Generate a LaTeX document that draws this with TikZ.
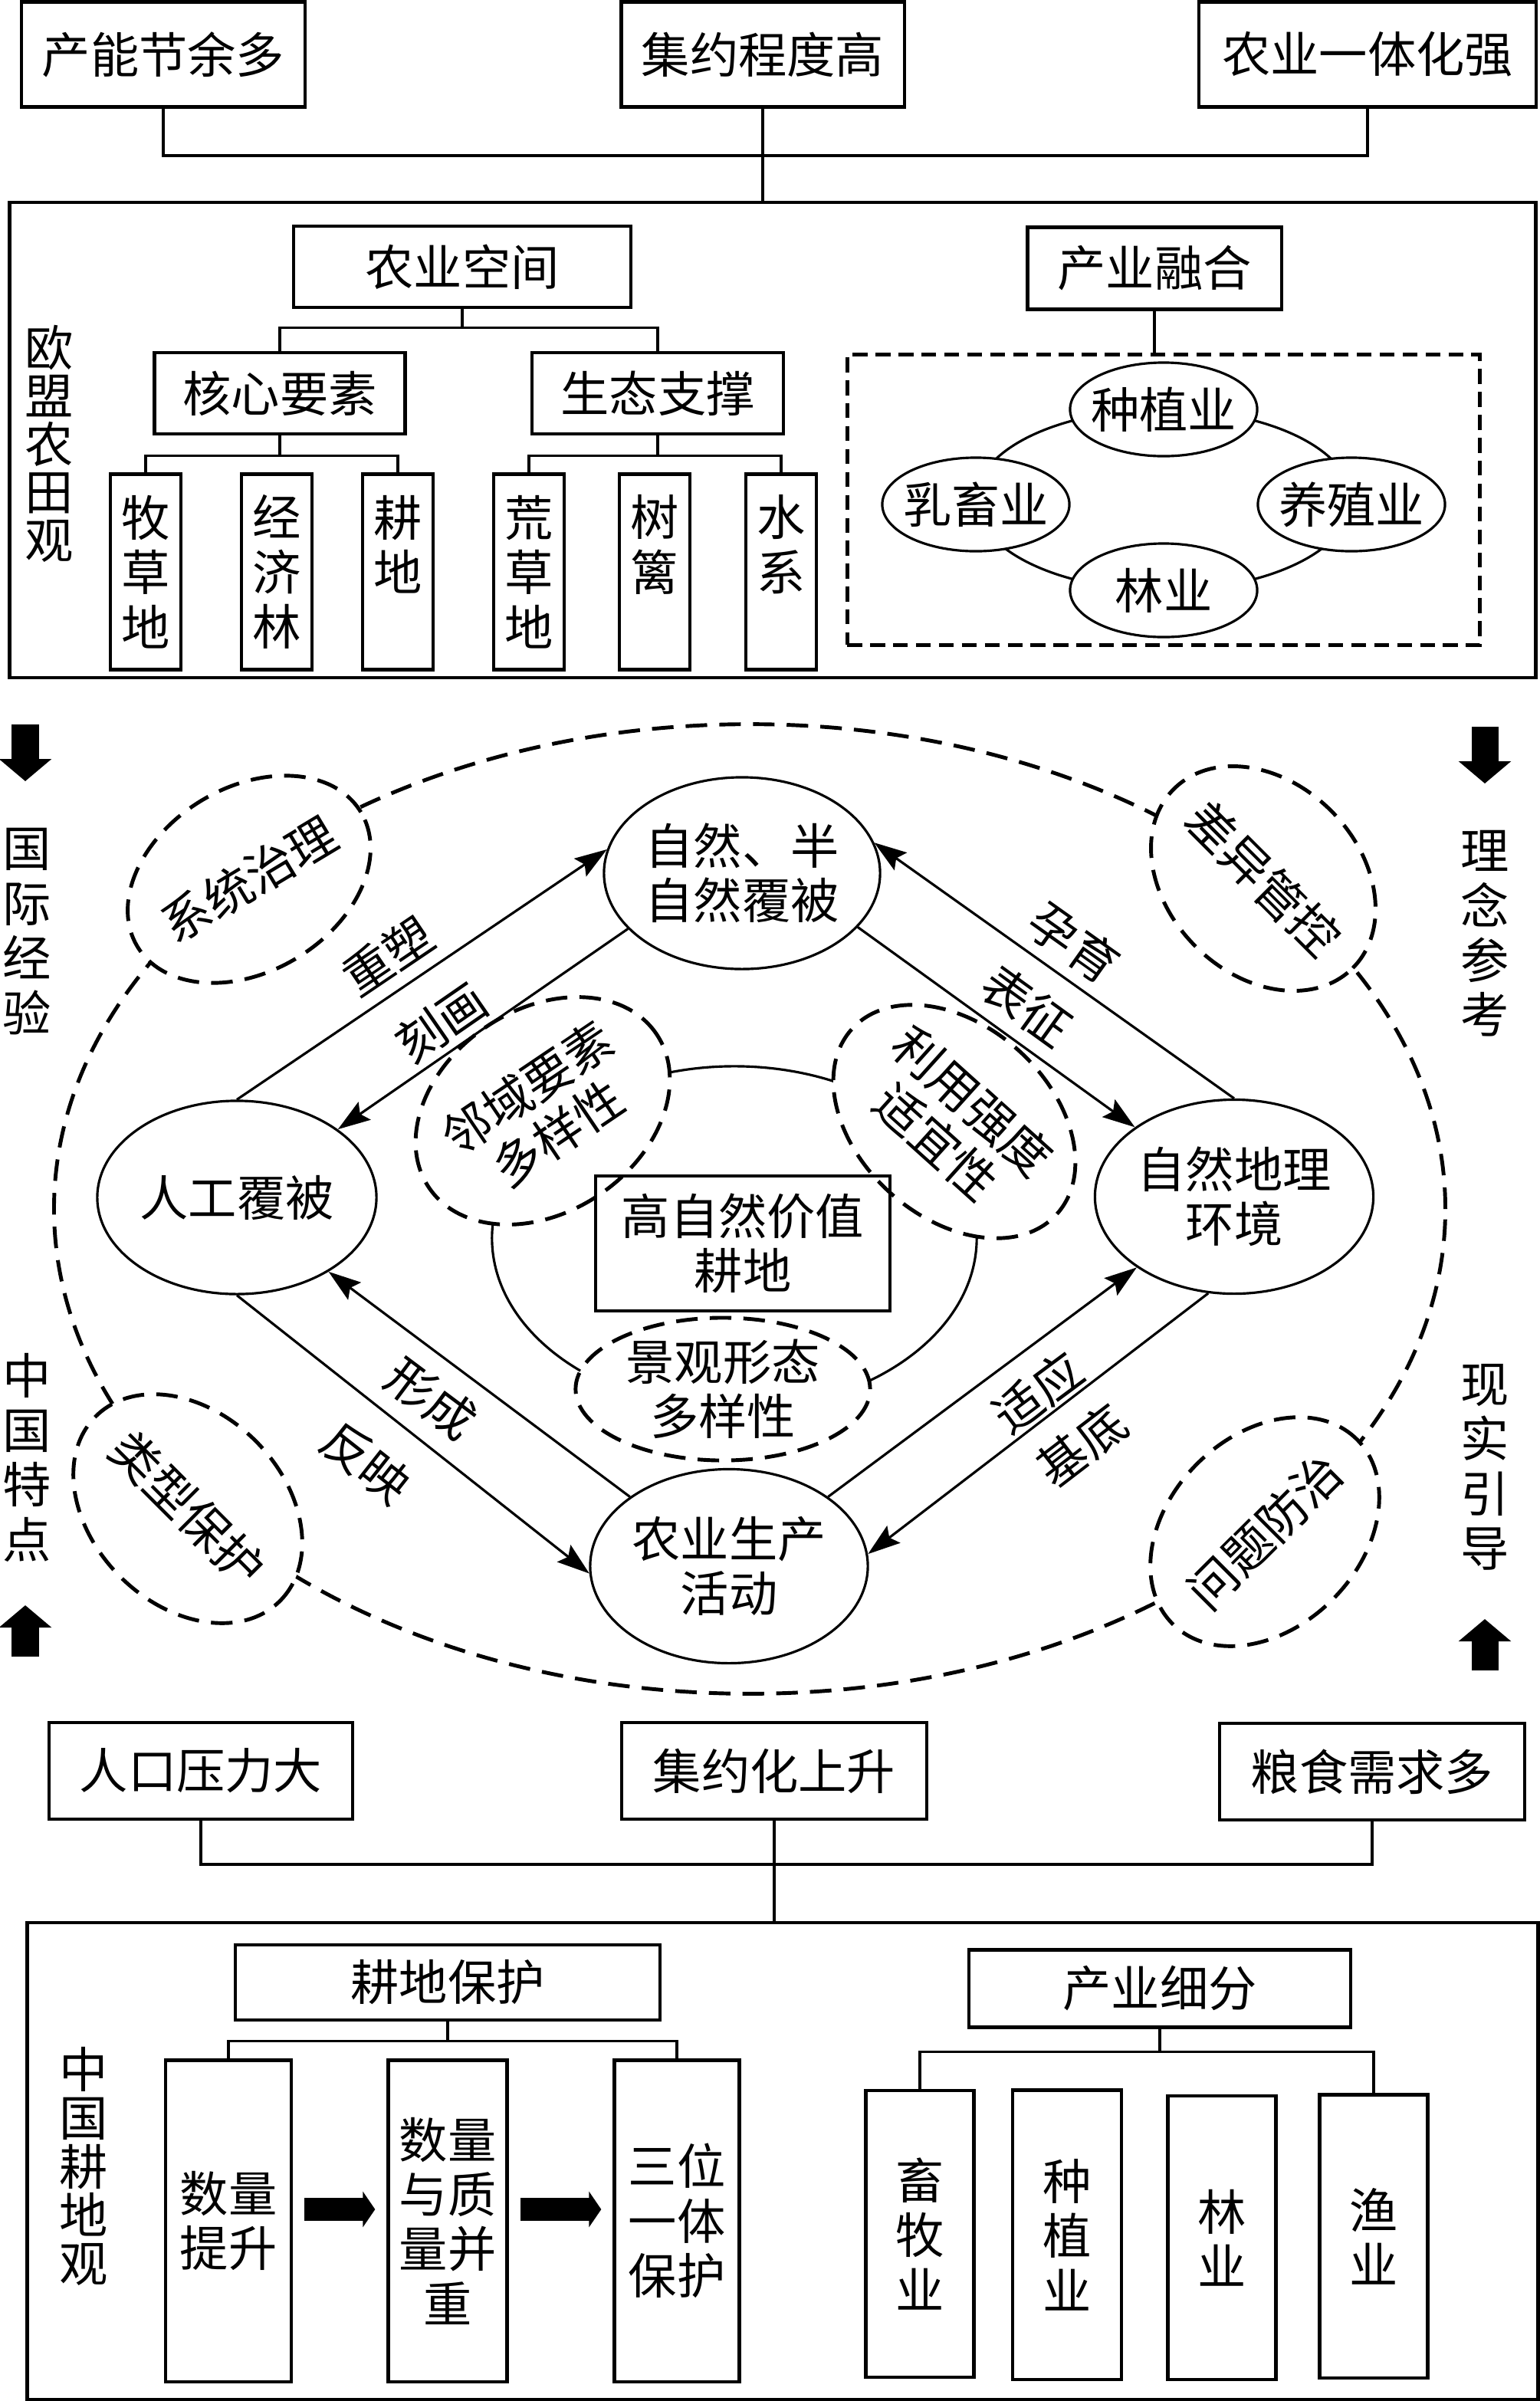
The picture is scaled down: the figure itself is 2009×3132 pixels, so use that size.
\documentclass[tikz,border=0pt]{standalone}
\usepackage{fontspec}
\newfontfamily\cjk{Noto Sans CJK SC}
\usetikzlibrary{shapes.geometric, arrows.meta, positioning, calc}
\begin{document}
\begin{tikzpicture}
	[x=0.01cm, y=-0.01cm,
	every node/.style = {font=\cjk\fontsize{18pt}{20.3pt}\selectfont, align=center, inner sep=0pt},
	kuang/.style = {draw, rectangle, line width=1.2pt},
	shu/.style = {kuang, minimum width=0.92cm, minimum height=2.55cm},
	yuan/.style = {draw, ellipse, line width=0.9pt, fill=white},
	xuyuan/.style = {draw, ellipse, line width=1.4pt, dash pattern=on 8pt off 4.5pt, fill=white},
	lian/.style = {line width=0.9pt},
	jiantou/.style = {line width=0.9pt, -{Stealth[length=12pt, width=8pt, inset=2pt]}},
	biao/.style = {inner sep=1pt, sloped},
	cu/.style = {line width=0.35cm, -{Triangle[length=0.29cm, width=0.67cm]}},
	cuxiao/.style = {line width=0.3cm, -{Triangle[length=0.16cm, width=0.46cm]}}]
	\useasboundingbox (0,0) rectangle (2009,3132);
	% top
	\node[kuang, minimum width=3.7cm, minimum height=1.37cm] (cnjy) at (213,71) {产能节余多};
	\node[kuang, minimum width=3.69cm, minimum height=1.37cm] (jycd) at (995,71) {集约程度高};
	\node[kuang, minimum width=4.39cm, minimum height=1.37cm] (nyyt) at (1784,71) {农业一体化强};
	\node[kuang, minimum width=19.9cm, minimum height=6.2cm] (oumeng) at (1008,574) {};
	\coordinate (ojd) at (995,203);
	\draw[lian] (cnjy.south) |- (ojd) -| (nyyt.south);
	\draw[lian] (jycd.south) -- (jycd.south |- oumeng.north);
	\node[font=\cjk\fontsize{18pt}{17.8pt}\selectfont] (omnt) at (64,579) {欧\\盟\\农\\田\\观};
	\node[kuang, minimum width=4.4cm, minimum height=1.06cm] (nykj) at (603,348) {农业空间};
	\node[kuang, minimum width=3.27cm, minimum height=1.06cm] (hxys) at (365,513) {核心要素};
	\node[kuang, minimum width=3.28cm, minimum height=1.06cm] (stzc) at (858,513) {生态支撑};
	\node[shu] (mcd) at (190,746) {牧\\草\\地};
	\node[shu] (jjl) at (361,746) {经\\济\\林};
	\node[shu] (gd) at (519,746) {耕\\地\\\phantom{地}};
	\node[shu] (hcd) at (690,746) {荒\\草\\地};
	\node[shu] (sl) at (854,746) {树\\篱\\\phantom{篱}};
	\node[shu] (sx) at (1019,746) {水\\系\\\phantom{系}};
	\draw[lian] (nykj.south) -- ++(0,24) coordinate (nyfen);
	\draw[lian] (hxys.north) |- (nyfen) -| (stzc.north);
	\draw[lian] (hxys.south) -- ++(0,26) coordinate (hxfen);
	\draw[lian] (mcd.north) |- (hxfen) -| (gd.north);
	\draw[lian] (stzc.south) -- ++(0,26) coordinate (stfen);
	\draw[lian] (hcd.north) |- (stfen) -| (sx.north);
	\node[kuang, minimum width=3.31cm, minimum height=1.07cm] (cyrh) at (1506,350) {产业融合};
	\node[draw, line width=1.4pt, dash pattern=on 5.5pt off 3pt, minimum width=8.25cm, minimum height=3.78cm] (rhkuang) at (1518,652) {};
	\draw[lian] (cyrh.south) -- (cyrh.south |- rhkuang.north);
	\node[draw, ellipse, lian, minimum width=4.9cm, minimum height=2.36cm] (rhhuan) at (1518,652) {};
	\node[yuan, minimum width=2.44cm, minimum height=1.22cm] (zzya) at (1518,534) {\makebox[0pt]{种植业}};
	\node[yuan, minimum width=2.44cm, minimum height=1.22cm] (rxy) at (1273,658) {\makebox[0pt]{乳畜业}};
	\node[yuan, minimum width=2.44cm, minimum height=1.22cm] (yzy) at (1763,658) {\makebox[0pt]{养殖业}};
	\node[yuan, minimum width=2.44cm, minimum height=1.22cm] (lya) at (1518,770) {\makebox[0pt]{林业}};
	% middle
	\coordinate (gjs) at (33,945); \coordinate (gjx) at (33,1019);
	\coordinate (lns) at (1937,948); \coordinate (lnx) at (1937,1022);
	\coordinate (zgx) at (33,2161); \coordinate (zgs) at (33,2094);
	\coordinate (xsx) at (1937,2179); \coordinate (xss) at (1937,2112);
	\draw[cu] (gjs) -- (gjx);
	\draw[cu] (lns) -- (lnx);
	\draw[cu] (zgx) -- (zgs);
	\draw[cu] (xsx) -- (xss);
	\node (gjjy) at (35,1215) {国\\际\\经\\验};
	\node (lnck) at (1937,1218) {理\\念\\参\\考};
	\node (zgtd) at (35,1901) {中\\国\\特\\点};
	\node (xsyd) at (1937,1914) {现\\实\\引\\导};
	\node[draw, ellipse, line width=1.4pt, dash pattern=on 8pt off 4.5pt, minimum width=18.14cm, minimum height=12.64cm] (waihuan) at (978,1577) {};
	\node[xuyuan, rotate=31, minimum width=3.4cm, minimum height=2.4cm] (xtzl) at (325,1147) {\makebox[0pt]{系统治理}};
	\node[xuyuan, rotate=-45, minimum width=3.3cm, minimum height=2.5cm] (cygk) at (1648,1146) {\makebox[0pt]{差异管控}};
	\node[xuyuan, rotate=-45, minimum width=3.4cm, minimum height=2.5cm] (lxbh) at (245,1968) {\makebox[0pt]{类型保护}};
	\node[xuyuan, rotate=45, minimum width=3.4cm, minimum height=2.5cm] (wtfz) at (1650,1998) {\makebox[0pt]{问题防治}};
	\node[draw, ellipse, lian, minimum width=6.32cm, minimum height=4.48cm] (neihuan) at (958,1615) {};
	\node[xuyuan, rotate=34, minimum width=3.56cm, minimum height=2.64cm] (lyys) at (708,1449) {邻域要素\\多样性};
	\node[xuyuan, rotate=-42, minimum width=3.6cm, minimum height=2.5cm] (lyqd) at (1245,1463) {利用强度\\适宜性};
	\node[xuyuan, minimum width=3.84cm, minimum height=1.86cm] (jgxt) at (943,1812) {景观形态\\多样性};
	\node[kuang, minimum width=3.84cm, minimum height=1.76cm] (gzr) at (969,1622) {高自然价值\\耕地};
	\node[yuan, minimum width=3.6cm, minimum height=2.5cm] (zr) at (968,1139) {自然、半\\自然覆被};
	\node[yuan, minimum width=3.64cm, minimum height=2.52cm] (rg) at (309,1562) {人工覆被};
	\node[yuan, minimum width=3.63cm, minimum height=2.53cm] (zd) at (1610,1561) {自然地理\\环境};
	\node[yuan, minimum width=3.62cm, minimum height=2.53cm] (sy) at (951,2043) {农业生产\\活动};
	\draw[jiantou] (rg.north) -- node[biao, pos=0.46, above=0.12cm] {重塑} (zr.170);
	\draw[jiantou] (zr.-154) -- node[biao, pos=0.585, above=0.04cm] {刻画} (rg.34);
	\draw[jiantou] (zd.north) -- node[biao, pos=0.5, above=0.1cm] {孕育} (zr.13);
	\draw[jiantou] (zr.-25) -- node[biao, pos=0.535, above=0.12cm] {表征} (zd.145);
	\draw[jiantou] (sy.145) -- node[biao, pos=0.58, below=0.18cm] {形成} (rg.-39);
	\draw[jiantou] (rg.south) -- node[biao, pos=0.457, below=0.33cm] {反映} (sy.183);
	\draw[jiantou] (sy.35) -- node[biao, pos=0.6, below=0.19cm] {适应} (zd.216);
	\draw[jiantou] (zd.-105) -- node[biao, pos=0.45, below=0.23cm] {基底} (sy.5);
	% bottom
	\node[kuang, minimum width=3.95cm, minimum height=1.26cm] (rkyl) at (262,2310) {人口压力大};
	\node[kuang, minimum width=3.98cm, minimum height=1.26cm] (jyhs) at (1010,2310) {集约化上升};
	\node[kuang, minimum width=3.98cm, minimum height=1.26cm] (lsxq) at (1790,2311) {粮食需求多};
	\node[kuang, minimum width=19.7cm, minimum height=6.22cm] (zhongguo) at (1021,2819) {};
	\coordinate (zjd) at (1010,2432);
	\draw[lian] (rkyl.south) |- (zjd) -| (lsxq.south);
	\draw[lian] (jyhs.south) -- (jyhs.south |- zhongguo.north);
	\node[font=\cjk\fontsize{18pt}{18pt}\selectfont] (zggd) at (109,2826) {中\\国\\耕\\地\\观};
	\node[kuang, minimum width=5.53cm, minimum height=0.98cm] (gdbh) at (584,2586) {耕地保护};
	\node[kuang, minimum width=4.98cm, minimum height=1.01cm] (cyxf) at (1513,2594) {产业细分};
	\node[kuang, minimum width=1.64cm, minimum height=4.19cm] (slts) at (298,2897) {数量\\提升};
	\node[kuang, minimum width=1.55cm, minimum height=4.19cm] (slzl) at (584,2897) {数量\\与质\\量并\\重};
	\node[kuang, minimum width=1.63cm, minimum height=4.19cm] (swyt) at (883,2897) {三位\\一体\\保护};
	\draw[lian] (gdbh.south) -- ++(0,25) coordinate (gdfen);
	\draw[lian] (slts.north) |- (gdfen) -| (swyt.north);
	\draw[cuxiao] ([shift={(15,-15)}]slts.east) -- ([shift={(-15,-15)}]slzl.west);
	\draw[cuxiao] ([shift={(15,-15)}]slzl.east) -- ([shift={(-15,-15)}]swyt.west);
	\node[kuang, minimum width=1.41cm, minimum height=3.74cm] (xmy) at (1200,2914) {畜\\牧\\业};
	\node[kuang, minimum width=1.42cm, minimum height=3.77cm] (zzyb) at (1392,2915) {种\\植\\业};
	\node[kuang, minimum width=1.41cm, minimum height=3.70cm] (lyb) at (1594,2919) {林\\业};
	\node[kuang, minimum width=1.41cm, minimum height=3.69cm] (yy) at (1792,2917) {渔\\业};
	\draw[lian] (cyxf.south) -- ++(0,30) coordinate (cyfen);
	\draw[lian] (xmy.north) |- (cyfen) -| (yy.north);
\end{tikzpicture}
\end{document}
